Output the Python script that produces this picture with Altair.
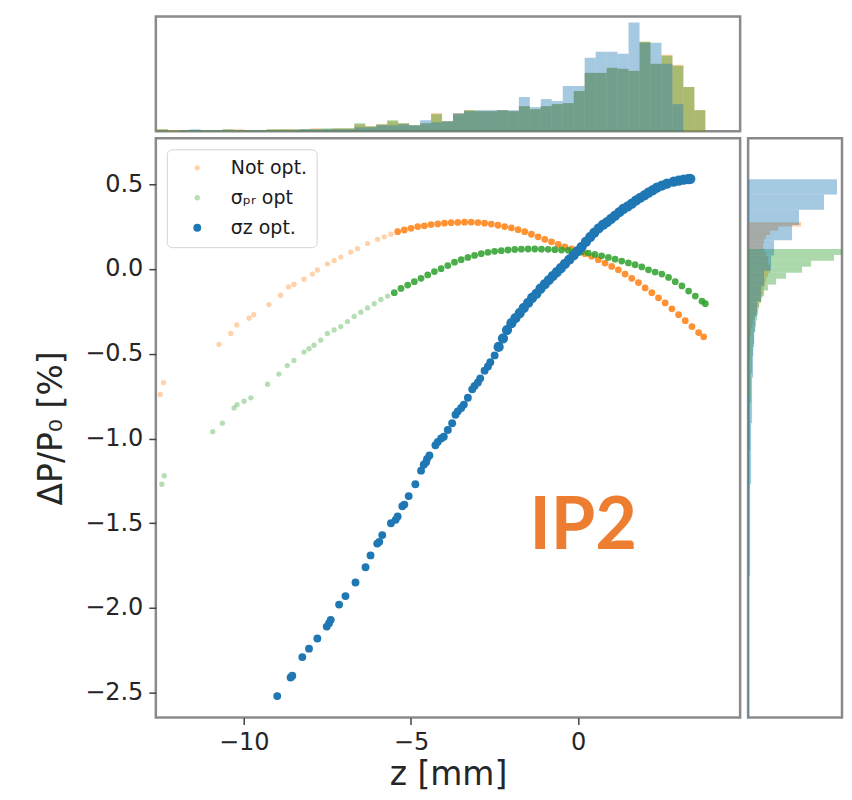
import altair as alt
import numpy as np
import pandas as pd

# ---------------- data ----------------
SERIES = ["Not opt.", "σₚᵣ opt", "σz opt."]
COLORS = ["#ff7f0e", "#2ca02c", "#1f77b4"]

orange_z = [-12.5, -12.4, -10.74, -10.39, -10.21, -9.84, -9.70, -9.25, -8.9, -8.66, -8.5, -8.2,
            -7.95, -7.8, -7.5, -7.3, -7.1, -6.8, -6.6, -6.3, -6.0,
            -5.8, -5.6, -5.4, -5.2, -5.0, -4.8, -4.6, -4.4, -4.2, -4.0,
            -3.8, -3.6, -3.4, -3.2, -3.0, -2.8, -2.6, -2.4, -2.2, -2.0, -1.8, -1.6, -1.4, -1.2, -1.0,
            -0.8, -0.6, -0.4, -0.2,
            0.0, 0.2, 0.4, 0.6, 0.8, 1.0, 1.2, 1.4, 1.6, 1.8, 2.0, 2.2, 2.4, 2.6, 2.8, 3.0, 3.2, 3.4, 3.6,
            3.75]
orange_dp = [-0.74, -0.67, -0.445, -0.38, -0.33, -0.29, -0.27, -0.21, -0.155, -0.106, -0.09, -0.06,
             -0.03, -0.006, 0.03, 0.05, 0.07, 0.10, 0.12, 0.15, 0.175,
             0.19, 0.205, 0.22, 0.23, 0.24, 0.25, 0.255, 0.262, 0.266, 0.27,
             0.273, 0.275, 0.276, 0.276, 0.274, 0.27, 0.265, 0.258, 0.25, 0.242, 0.232, 0.22, 0.205, 0.19, 0.175,
             0.16, 0.145, 0.13, 0.118,
             0.105, 0.09, 0.075, 0.055, 0.035, 0.015, -0.005, -0.03, -0.055, -0.08, -0.112, -0.14, -0.17, -0.2,
             -0.235, -0.27, -0.305, -0.34, -0.375,
             -0.40]

green_z = [-12.45, -12.38, -10.93, -10.64, -10.29, -10.2, -9.99, -9.79, -9.29, -8.95, -8.7, -8.5, -8.2, -8.05,
           -7.9, -7.7, -7.5, -7.3, -7.1,
           -6.9, -6.7, -6.5, -6.3, -6.1, -5.9, -5.7, -5.5, -5.3, -5.1, -4.9, -4.7, -4.5, -4.3, -4.1, -3.9, -3.7,
           -3.5, -3.3, -3.1, -2.9, -2.7, -2.5, -2.3, -2.1, -1.9, -1.7, -1.5, -1.3, -1.1, -0.9, -0.7, -0.5, -0.3,
           -0.1, 0.1, 0.3, 0.5, 0.7, 0.9, 1.1, 1.3, 1.5, 1.7, 1.9, 2.1, 2.3, 2.5, 2.7, 2.9, 3.1, 3.3, 3.5, 3.7,
           3.8]
green_dp = [-1.27, -1.22, -0.96, -0.91, -0.82, -0.80, -0.78, -0.76, -0.68, -0.62, -0.57, -0.54, -0.49, -0.47,
            -0.45, -0.42, -0.38, -0.36, -0.34,
            -0.31, -0.28, -0.255, -0.23, -0.205, -0.18, -0.16, -0.14, -0.115, -0.095,
            -0.075, -0.055, -0.035, -0.015, 0.002, 0.02, 0.04, 0.055, 0.068, 0.08,
            0.09, 0.098, 0.104, 0.108, 0.112, 0.115, 0.117, 0.118, 0.118, 0.117,
            0.116, 0.114, 0.112, 0.11, 0.106,
            0.10, 0.094, 0.086, 0.078, 0.068, 0.058, 0.047, 0.036, 0.025, 0.012,
            -0.005, -0.018, -0.03, -0.05, -0.075, -0.10, -0.13, -0.16, -0.19,
            -0.205]

blue_z = [-9.0, -8.6, -8.55, -8.25, -8.05, -7.8, -7.52, -7.45, -7.4, -7.15,
          -6.96, -6.66, -6.36, -6.21, -6.01, -5.95, -5.86, -5.6, -5.46, -5.4,
          -5.26, -5.2, -5.07, -4.87, -4.7, -4.62, -4.55, -4.52, -4.45, -4.27,
          -4.2, -4.1, -4.02, -3.9, -3.77, -3.67, -3.6, -3.5, -3.42, -3.3,
          -3.17, -3.1, -3.0, -2.93, -2.8, -2.7, -2.63, -2.5, -2.38, -2.25,
          -2.13, -2.0, -1.88, -1.75, -1.63, -1.5, -1.38, -1.25, -1.13, -1.0,
          -0.88, -0.76, -0.64, -0.52, -0.4, -0.27, -0.14, -0.02, 0.1, 0.23,
          0.36, 0.48, 0.61, 0.74, 0.86, 0.98, 1.1, 1.23, 1.35, 1.48,
          1.6, 1.73, 1.85, 1.98, 2.1, 2.23, 2.35, 2.5, 2.65, 2.85,
          3.0, 3.15, 3.29, 3.35]
blue_dp = [-2.52, -2.41, -2.40, -2.29, -2.24, -2.18, -2.11, -2.09, -2.07, -1.98,
           -1.93, -1.85, -1.76, -1.69, -1.62, -1.61, -1.57, -1.50, -1.48, -1.46,
           -1.40, -1.39, -1.34, -1.27, -1.19, -1.155, -1.14, -1.12, -1.10, -1.04,
           -1.02, -1.0, -0.99, -0.95, -0.91, -0.86, -0.84, -0.82, -0.80, -0.76,
           -0.71, -0.69, -0.67, -0.645, -0.60, -0.575, -0.55, -0.51, -0.46, -0.41,
           -0.36, -0.32, -0.29, -0.26, -0.23, -0.20, -0.17, -0.145, -0.116, -0.09,
           -0.065, -0.04, -0.018, 0.005, 0.03, 0.055, 0.08, 0.105, 0.13, 0.16,
           0.19, 0.215, 0.24, 0.26, 0.276, 0.295, 0.315, 0.335, 0.355, 0.37,
           0.385, 0.405, 0.42, 0.435, 0.45, 0.465, 0.48, 0.492, 0.503, 0.516,
           0.522, 0.527, 0.53, 0.532]

# top marginal histogram (counts per z bin, 50 bins from -12.6 to 3.8 mm)
ZBIN_RANGE = [-12.6, 3.8]
top_notopt = [2, 1, 1, 1, 1, 1, 2, 2, 1, 1, 2, 2, 2, 2, 3, 2, 3,
              3, 7, 5, 7, 10, 8, 6, 8, 18, 10, 18, 21, 20, 20, 21, 20, 25,
              22, 25, 27, 28, 40, 58, 58, 63, 62, 60, 89, 67, 76, 66, 44, 21]
top_pr = [2, 1, 1, 1, 1, 1, 2, 1, 1, 1, 2, 2, 2, 2, 2, 3, 3,
          3, 8, 5, 7, 11, 8, 6, 8, 17, 10, 17, 21, 20, 20, 21, 20, 25,
          22, 25, 27, 28, 40, 58, 58, 63, 62, 60, 89, 67, 75, 65, 44, 21]
top_sz = [1, 0, 1, 2, 1, 1, 1, 1, 1, 1, 1, 1, 1, 2, 2, 2, 2,
          2, 4, 4, 6, 6, 7, 6, 11, 9, 10, 18, 20, 21, 21, 21, 21, 34,
          24, 32, 30, 45, 45, 73, 79, 79, 77, 108, 88, 88, 67, 27, 0, 0]

# right marginal histogram (counts per ΔP/P0 bin, listed from the top bin downwards)
right_notopt_top, right_notopt_step = 0.276, 0.025
right_notopt = [53, 30, 22, 18, 16, 15, 16, 18, 20, 20, 22, 22, 20, 18, 17, 16, 15, 14, 13, 11,
                9, 8, 6, 5, 4, 3, 3, 2, 2, 2, 2, 2, 1, 1, 1, 1, 1, 1, 1, 1, 1]
right_pr_top, right_pr_step = 0.118, 0.035
right_pr = [140, 86, 63, 54, 38, 28, 20, 16, 13, 11, 10, 9, 8, 7, 6, 6, 5, 5, 4, 4,
            4, 3, 3, 3, 3, 3, 2, 2, 2, 2, 2, 2, 2, 2, 1, 1, 1, 1, 1, 1]
right_sz_top, right_sz_step = 0.53, 0.09
right_sz = [89, 76, 51, 44, 26, 23, 16, 13, 9, 7, 6, 5, 5, 4, 4, 4, 3, 3, 3, 3,
            2, 2, 2, 2, 2, 2, 1, 1, 1, 1, 1, 1, 1, 1, 1, 1]

ANNOT_Z = [0.15]
ANNOT_DP = [-1.65]
ANNOT_TEXT = ["IP2"]

X_DOMAIN = [-12.63, 4.84]
Y_DOMAIN = [-2.647, 0.771]

# ---------------- tables ----------------
scatter_df = pd.concat([
    pd.DataFrame({"z": orange_z, "dp": orange_dp, "series": SERIES[0]}),
    pd.DataFrame({"z": green_z, "dp": green_dp, "series": SERIES[1]}),
    pd.DataFrame({"z": blue_z, "dp": blue_dp, "series": SERIES[2]}),
], ignore_index=True)

edges = np.linspace(ZBIN_RANGE[0], ZBIN_RANGE[1], len(top_notopt) + 1)
top_rows = []
for name, counts in zip(SERIES, [top_notopt, top_pr, top_sz]):
    for i, c in enumerate(counts):
        top_rows.append({"series": name, "lo": edges[i], "hi": edges[i + 1], "count": c})
top_df = pd.DataFrame(top_rows)

right_rows = []
for name, top, step, counts in zip(SERIES,
                                   [right_notopt_top, right_pr_top, right_sz_top],
                                   [right_notopt_step, right_pr_step, right_sz_step],
                                   [right_notopt, right_pr, right_sz]):
    for i, c in enumerate(counts):
        right_rows.append({"series": name, "hi": top - i * step, "lo": top - (i + 1) * step, "count": c})
right_df = pd.DataFrame(right_rows)

annot_df = pd.DataFrame({"z": ANNOT_Z, "dp": ANNOT_DP, "label": ANNOT_TEXT})

# ---------------- chart ----------------
color_scale = alt.Scale(domain=SERIES, range=COLORS)
legend = alt.Legend(title=None, orient="top-left", offset=11, padding=9,
                    fillColor="white", strokeColor="#d4d4d4", cornerRadius=5,
                    labelFontSize=19, labelFont="DejaVu Sans", labelColor="#1a1a1a",
                    labelOffset=24, symbolOffset=12, rowPadding=10, symbolType="circle",
                    symbolStrokeWidth=0)

xs = alt.Scale(domain=X_DOMAIN, nice=False, zero=False)
ys = alt.Scale(domain=Y_DOMAIN, nice=False, zero=False)

DENSE_OG = "datum.z > -5.6 && datum.series != 'σz opt.'"
DENSE_BLUE = "datum.z > -2.45 && datum.series == 'σz opt.'"

points = alt.Chart(scatter_df).mark_circle(strokeWidth=0).encode(
    x=alt.X("z:Q", scale=xs,
            axis=alt.Axis(values=[-10, -5, 0], format="d", title="z [mm]",
                          titlePadding=4, labelPadding=6)),
    y=alt.Y("dp:Q", scale=ys,
            axis=alt.Axis(values=[-2.5, -2.0, -1.5, -1.0, -0.5, 0.0, 0.5], format=".1f",
                          title="ΔP/P₀ [%]", titlePadding=16, labelPadding=6)),
    color=alt.Color("series:N", scale=color_scale, legend=legend),
    size=alt.Size("series:N",
                  scale=alt.Scale(type="ordinal", domain=SERIES, range=[28, 28, 62]),
                  legend=legend,
                  condition=[{"test": DENSE_OG, "value": 46},
                             {"test": DENSE_BLUE, "value": 105}]),
    opacity=alt.condition(
        DENSE_OG, alt.value(0.85),
        alt.Opacity("series:N", scale=alt.Scale(type="ordinal", domain=SERIES, range=[0.35, 0.35, 1.0]),
                    legend=legend),
    ),
)

annot = alt.Chart(annot_df).mark_text(
    font="Lato", fontSize=72, fontWeight="bold", color="#ED7D31",
    align="center", baseline="alphabetic"
).encode(x=alt.X("z:Q", scale=xs), y=alt.Y("dp:Q", scale=ys), text="label:N")

main = alt.layer(points, annot).properties(width=585, height=580)

top_hist = alt.Chart(top_df).mark_bar(opacity=0.4, strokeWidth=0).encode(
    x=alt.X("lo:Q", scale=xs, axis=None),
    x2="hi:Q",
    y=alt.Y("count:Q", scale=alt.Scale(domain=[0, 114], nice=False), axis=None),
    y2=alt.datum(0),
    color=alt.Color("series:N", scale=color_scale, legend=None),
).properties(width=585, height=115)

right_hist = alt.Chart(right_df).mark_bar(opacity=0.4, strokeWidth=0, clip=True).encode(
    y=alt.Y("lo:Q", scale=ys, axis=None),
    y2="hi:Q",
    x=alt.X("count:Q", scale=alt.Scale(domain=[0, 94], nice=False), axis=None),
    x2=alt.datum(0),
    color=alt.Color("series:N", scale=color_scale, legend=None),
).properties(width=94, height=580)

chart = alt.vconcat(
    top_hist,
    alt.hconcat(main, right_hist, spacing=8, bounds="flush"),
    spacing=7, bounds="flush",
).resolve_scale(
    color="independent", size="independent", opacity="independent"
).resolve_legend(
    color="independent", size="independent", opacity="independent"
).properties(
    padding={"left": 26, "top": 6, "right": 0, "bottom": 0}
).configure(
    font="DejaVu Sans", background="white"
).configure_view(
    stroke="#8a8a8a", strokeWidth=2.5
).configure_axis(
    labelFont="DejaVu Sans", titleFont="DejaVu Sans",
    labelFontSize=24, titleFontSize=33, titleFontWeight="normal",
    labelColor="#262626", titleColor="#262626",
    tickColor="#444444", tickSize=7, tickWidth=1.5,
    domain=False, grid=False,
)

chart.save("out.html", embed_options={"renderer": "svg", "actions": False})
